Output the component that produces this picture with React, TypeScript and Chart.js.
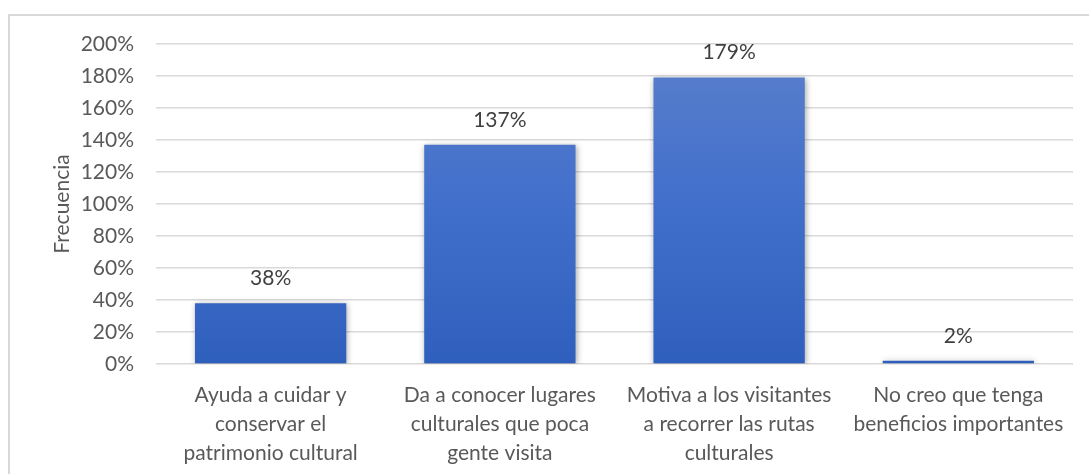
import React, { useEffect, useRef } from "react";
import { Chart, registerables } from "chart.js";

Chart.register(...registerables);

const categories: string[][] = [
  ["Ayuda a cuidar y", "conservar el", "patrimonio cultural"],
  ["Da a conocer lugares", "culturales que poca", "gente visita"],
  ["Motiva a los visitantes", "a recorrer las rutas", "culturales"],
  ["No creo que tenga", "beneficios importantes"],
];
const values: number[] = [38, 137, 179, 2];
const yTitle = "Frecuencia";
const yMax = 200;
const yStep = 20;

const FONT = "Lato, 'Open Sans', sans-serif";
const FS = 21;

const framePlugin = {
  id: "frame",
  beforeDraw(chart: any) {
    const ctx = chart.ctx;
    ctx.save();
    ctx.fillStyle = "#ffffff";
    ctx.fillRect(0, 0, chart.width, chart.height);
    ctx.strokeStyle = "#d9d9d9";
    ctx.lineWidth = 2;
    ctx.beginPath();
    ctx.moveTo(9, chart.height);
    ctx.lineTo(9, 15);
    ctx.lineTo(chart.width, 15);
    ctx.stroke();
    ctx.restore();
  },
};

const shadowPlugin = {
  id: "barShadow",
  beforeDatasetsDraw(chart: any) {
    const ctx = chart.ctx;
    ctx.save();
    ctx.shadowColor = "rgba(0,0,0,0.35)";
    ctx.shadowBlur = 6;
    ctx.shadowOffsetX = 1;
    ctx.shadowOffsetY = 1;
  },
  afterDatasetsDraw(chart: any) {
    chart.ctx.restore();
  },
};

const labelPlugin = {
  id: "valueLabels",
  afterDatasetsDraw(chart: any) {
    const ctx = chart.ctx;
    const meta = chart.getDatasetMeta(0);
    ctx.save();
    ctx.shadowColor = "transparent";
    ctx.font = `${FS}px ${FONT}`;
    ctx.fillStyle = "#404040";
    ctx.textAlign = "center";
    ctx.textBaseline = "middle";
    meta.data.forEach((bar: any, i: number) => {
      ctx.fillText(values[i] + "%", bar.x, bar.y - 25);
    });
    ctx.restore();
  },
};

export default function App() {
  const ref = useRef<HTMLCanvasElement>(null);
  useEffect(() => {
    if (!ref.current) return;
    const chart = new Chart(ref.current, {
      type: "bar",
      data: {
        labels: categories,
        datasets: [
          {
            data: values,
            backgroundColor: (c: any) => {
              const area = c.chart.chartArea;
              if (!area) return "#4472c4";
              const g = c.chart.ctx.createLinearGradient(0, area.top, 0, area.bottom);
              g.addColorStop(0, "#5b80cc");
              g.addColorStop(0.5, "#416fcb");
              g.addColorStop(1, "#2f5fbd");
              return g;
            },
            borderWidth: 0,
            barPercentage: 0.66,
            categoryPercentage: 1,
          },
        ],
      },
      options: {
        responsive: false,
        animation: false,
        layout: { padding: { left: 50, top: 44, right: 16, bottom: 0 } },
        plugins: {
          legend: { display: false },
          tooltip: { enabled: false },
        },
        scales: {
          x: {
            grid: { display: false },
            border: { display: false },
            ticks: {
              color: "#595959",
              font: { family: FONT, size: FS, lineHeight: 1.38 },
              padding: 9,
              maxRotation: 0,
              autoSkip: false,
            },
            afterFit: (s: any) => {
              s.height = 110;
            },
          },
          y: {
            min: 0,
            max: yMax,
            ticks: {
              stepSize: yStep,
              color: "#595959",
              font: { family: FONT, size: FS },
              padding: 22,
              callback: (v: any) => v + "%",
            },
            grid: { color: "#d9d9d9", lineWidth: 1.5, drawTicks: false },
            border: { display: false },
            title: {
              display: true,
              text: yTitle,
              color: "#595959",
              font: { family: FONT, size: FS },
              padding: 0,
            },
            afterFit: (s: any) => {
              s.width = 106;
            },
          },
        },
      },
      plugins: [framePlugin, shadowPlugin, labelPlugin],
    });
    return () => chart.destroy();
  }, []);
  return (
    <canvas
      ref={ref}
      width={1089}
      height={474}
      style={{ position: "fixed", left: 0, top: 0, width: 1089, height: 474 }}
    />
  );
}
